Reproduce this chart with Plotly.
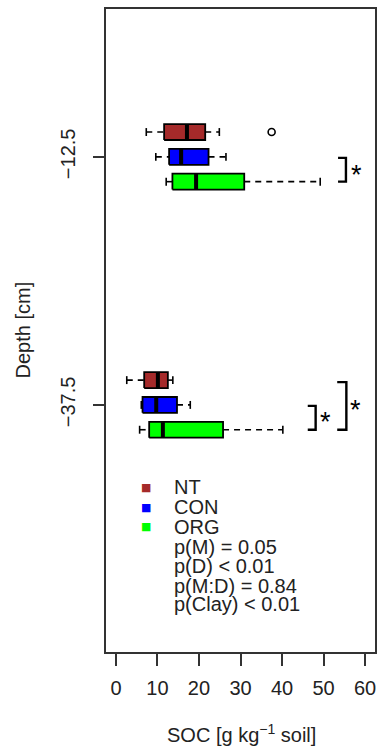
import plotly.graph_objects as go

# Soil organic carbon by management system and depth (box statistics)
systems = ["NT", "CON", "ORG"]
colors = {"NT": "#A52A2A", "CON": "#0000FF", "ORG": "#00FF00"}

depth_0_25 = [-10.0, -12.5, -15.0]
depth_25_50 = [-35.0, -37.5, -40.0]

# whisker low, q1, median, q3, whisker high
stats_top = {
    "NT": [7.3, 11.6, 17.1, 21.5, 24.9],
    "CON": [9.6, 12.8, 15.7, 22.3, 26.5],
    "ORG": [12.1, 13.6, 19.3, 30.9, 49.2],
}
stats_bottom = {
    "NT": [2.6, 6.8, 10.1, 12.5, 13.7],
    "CON": [6.1, 6.4, 9.7, 14.7, 17.9],
    "ORG": [5.7, 8.0, 11.3, 25.8, 40.2],
}
outliers = {"NT_top": [37.5]}

p_values = ["p(M) = 0.05", "p(D) < 0.01", "p(M:D) = 0.84", "p(Clay) < 0.01"]

FONT = "Liberation Sans, Arial, sans-serif"
HALF = 0.8      # half box height (depth units)
CAP = 0.4       # half staple height

fig = go.Figure()


def add_box(center, s, color):
    lo, q1, med, q3, hi = s
    # dashed whiskers
    for xa, xb in ((lo, q1), (q3, hi)):
        fig.add_trace(go.Scatter(x=[xa, xb], y=[center, center], mode="lines",
                                 line=dict(color="black", width=1.6, dash="6px,5px"),
                                 hoverinfo="skip", showlegend=False))
    # staples
    for xv in (lo, hi):
        fig.add_trace(go.Scatter(x=[xv, xv], y=[center - CAP, center + CAP], mode="lines",
                                 line=dict(color="black", width=1.6),
                                 hoverinfo="skip", showlegend=False))
    # box body
    fig.add_trace(go.Scatter(x=[q1, q3, q3, q1, q1],
                             y=[center - HALF, center - HALF, center + HALF, center + HALF, center - HALF],
                             mode="lines", fill="toself", fillcolor=color,
                             line=dict(color="black", width=1.8),
                             hoverinfo="skip", showlegend=False))
    # median
    fig.add_trace(go.Scatter(x=[med, med], y=[center - HALF, center + HALF], mode="lines",
                             line=dict(color="black", width=4),
                             hoverinfo="skip", showlegend=False))


for sysname, c in zip(systems, depth_0_25):
    add_box(c, stats_top[sysname], colors[sysname])
for sysname, c in zip(systems, depth_25_50):
    add_box(c, stats_bottom[sysname], colors[sysname])

fig.add_trace(go.Scatter(x=outliers["NT_top"], y=[depth_0_25[0]] * len(outliers["NT_top"]),
                         mode="markers",
                         marker=dict(symbol="circle-open", size=7, color="black", line=dict(width=1.6)),
                         hoverinfo="skip", showlegend=False))


# significance brackets
def bracket(x0, x1, ya, yb, sx, sy):
    fig.add_trace(go.Scatter(x=[x0, x1, x1, x0], y=[ya, ya, yb, yb], mode="lines",
                             line=dict(color="black", width=2.4),
                             hoverinfo="skip", showlegend=False))
    fig.add_annotation(x=sx, y=sy, xref="x", yref="y", text="*", showarrow=False,
                       font=dict(family=FONT, size=27, color="black"),
                       xanchor="center", yanchor="middle", yshift=-6)


bracket(53.5, 55.4, -12.6, -15.0, 57.9, -13.7)
bracket(46.2, 48.1, -37.6, -40.0, 50.5, -38.6)
bracket(53.3, 55.5, -35.2, -40.0, 57.7, -37.4)

# legend block
leg_y = [-45.8, -47.8, -49.8]
for sysname, yv in zip(systems, leg_y):
    fig.add_annotation(x=7.2, y=yv, xref="x", yref="y", text="■", showarrow=False,
                       font=dict(family="DejaVu Sans", size=11, color=colors[sysname]),
                       xanchor="center", yanchor="middle")
    fig.add_annotation(x=13.6, y=yv, xref="x", yref="y", text=sysname, showarrow=False,
                       font=dict(family=FONT, size=20, color="#222"),
                       xanchor="left", yanchor="middle")
for txt, yv in zip(p_values, [-51.8, -53.75, -55.7, -57.6]):
    fig.add_annotation(x=13.6, y=yv, xref="x", yref="y", text=txt, showarrow=False,
                       font=dict(family=FONT, size=20, color="#222"),
                       xanchor="left", yanchor="middle")

# axis titles
fig.add_annotation(x=0.503, y=-0.126, xref="paper", yref="paper",
                   text="SOC [g kg<sup>−1</sup> soil]", showarrow=False,
                   font=dict(family=FONT, size=20, color="#222"),
                   xanchor="center", yanchor="middle")
fig.add_annotation(x=-0.31, y=0.501, xref="paper", yref="paper",
                   text="Depth [cm]", showarrow=False, textangle=-90,
                   font=dict(family=FONT, size=20, color="#222"),
                   xanchor="center", yanchor="middle")

fig.update_layout(
    width=378, height=748,
    margin=dict(l=106, r=1, t=9, b=96),
    paper_bgcolor="white", plot_bgcolor="white",
    font=dict(family=FONT, size=20, color="#222"),
    xaxis=dict(range=[-2.4, 62.4], tickvals=[0, 10, 20, 30, 40, 50, 60],
               ticks="outside", ticklen=12, tickwidth=2, tickcolor="#333",
               showline=True, linecolor="#333", linewidth=2, mirror=True,
               showgrid=False, zeroline=False, ticklabelstandoff=5),
    yaxis=dict(range=[-62.4, 2.4], tickvals=[-12.5, -37.5], ticktext=["−12.5", "−37.5"],
               tickangle=-90, ticks="outside", ticklen=11, tickwidth=2, tickcolor="#333",
               showline=True, linecolor="#333", linewidth=2, mirror=True,
               showgrid=False, zeroline=False, ticklabelstandoff=10),
)

fig.write_html("out.html")
